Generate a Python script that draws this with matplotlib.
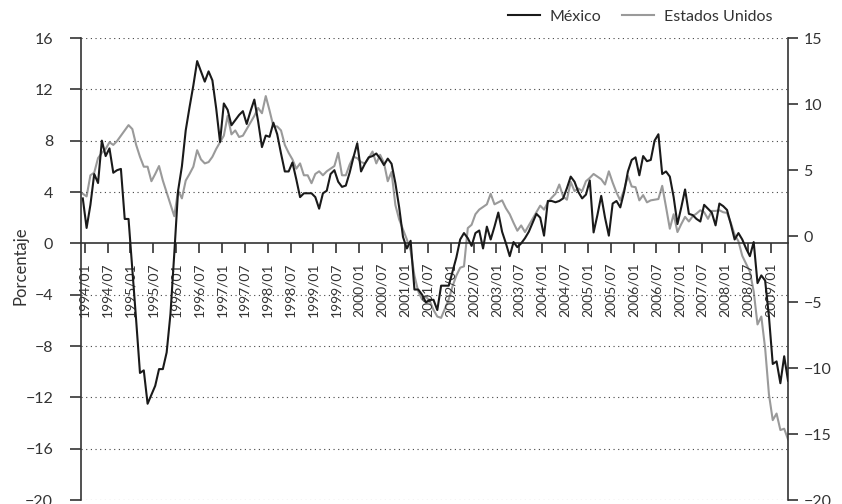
import matplotlib
matplotlib.use('Agg')
import matplotlib.pyplot as plt
import numpy as np

# variación anual (%), mensual desde 1994/01
mexico = [3.5, 1.2, 3.0, 5.4, 4.7, 8.0, 6.8, 7.4, 5.5, 5.7,
          5.8, 1.9, 1.9, -2.0, -6.0, -10.1, -9.9, -12.5, -11.8, -11.1,
          -9.8, -9.8, -8.5, -5.5, -0.8, 4.1, 6.0, 8.8, 10.6, 12.3,
          14.2, 13.4, 12.6, 13.4, 12.7, 10.5, 7.9, 10.9, 10.4, 9.2,
          9.6, 10.0, 10.3, 9.3, 10.3, 11.2, 9.5, 7.5, 8.4, 8.3,
          9.4, 8.5, 7.0, 5.6, 5.6, 6.3, 5.0, 3.6, 3.9, 3.9,
          3.9, 3.6, 2.7, 3.9, 4.1, 5.4, 5.7, 4.8, 4.4, 4.5,
          5.5, 6.7, 7.8, 5.6, 6.2, 6.7, 6.8, 7.0, 6.6, 6.1,
          6.6, 6.2, 4.7, 2.8, 0.5, -0.4, 0.2, -3.6, -3.6, -4.0,
          -4.6, -4.4, -4.4, -5.2, -3.3, -3.3, -3.3, -2.2, -1.1, 0.3,
          0.8, 0.4, -0.2, 0.8, 1.0, -0.4, 1.3, 0.3, 1.3, 2.4,
          0.9, 0.0, -1.0, 0.1, -0.3, 0.0, 0.4, 0.9, 1.6, 2.3,
          2.0, 0.6, 3.3, 3.3, 3.2, 3.3, 3.5, 4.3, 5.2, 4.8,
          4.0, 3.5, 3.8, 4.9, 0.85, 2.2, 3.7, 2.0, 0.6, 3.1,
          3.3, 2.8, 4.0, 5.6, 6.5, 6.7, 5.3, 6.8, 6.4, 6.5,
          8.0, 8.5, 5.4, 5.6, 5.2, 3.6, 1.5, 2.8, 4.2, 2.3,
          2.2, 1.9, 1.7, 3.0, 2.7, 2.4, 1.4, 3.1, 2.9, 2.6,
          1.5, 0.3, 0.8, 0.3, -0.4, -1.0, 0.1, -3.1, -2.5, -2.9,
          -5.7, -9.4, -9.2, -10.9, -8.8, -10.7]

estados_unidos = [3.2, 3.0, 4.6, 4.8, 5.9, 6.3, 6.6, 7.1, 6.9, 7.2,
                  7.6, 8.0, 8.4, 8.1, 6.9, 6.0, 5.25, 5.25, 4.15, 4.7,
                  5.3, 4.2, 3.3, 2.4, 1.5, 3.45, 2.85, 4.2, 4.7, 5.25,
                  6.5, 5.8, 5.5, 5.6, 6.0, 6.6, 7.1, 7.6, 9.1, 7.7,
                  8.0, 7.5, 7.6, 8.1, 8.6, 9.1, 9.7, 9.3, 10.6, 9.5,
                  8.3, 8.3, 8.0, 6.9, 6.3, 5.8, 5.1, 5.5, 4.6, 4.6,
                  4.0, 4.7, 4.9, 4.6, 4.9, 5.1, 5.3, 6.3, 4.6, 4.6,
                  5.4, 6.0, 5.9, 5.6, 5.5, 5.9, 6.4, 5.5, 6.15, 5.55,
                  4.15, 4.85, 2.35, 1.25, 0.5, -0.25, -1.1, -3.0, -4.2, -4.8,
                  -4.6, -4.9, -5.6, -6.1, -6.2, -5.5, -4.8, -3.8, -3.0, -2.4,
                  -2.3, 0.6, 0.85, 1.65, 2.0, 2.2, 2.4, 3.2, 2.4, 2.55,
                  2.7, 2.1, 1.65, 1.0, 0.4, 0.8, 0.3, 0.8, 1.3, 1.8,
                  2.3, 2.0, 2.55, 2.9, 3.2, 3.9, 3.0, 2.75, 4.1, 3.4,
                  3.6, 3.4, 4.15, 4.4, 4.7, 4.5, 4.3, 3.9, 4.9, 4.05,
                  3.3, 2.7, 3.5, 4.55, 3.75, 3.7, 2.7, 3.1, 2.55, 2.7,
                  2.75, 2.8, 3.8, 2.2, 0.55, 1.65, 0.3, 0.9, 1.45, 1.1,
                  1.5, 1.7, 1.95, 1.8, 1.3, 1.9, 1.9, 1.95, 1.8, 1.75,
                  1.0, 0.1, -0.4, -1.5, -2.1, -2.7, -4.2, -6.7, -6.1, -8.5,
                  -12.0, -13.95, -13.45, -14.7, -14.6, -15.4]

tick_labels = [f'{y}/{m}' for y in range(1994, 2010) for m in ('01', '07')][:31]
left_ticks = list(range(-20, 17, 4))
right_ticks = list(range(-20, 16, 5))

plt.rcParams['font.family'] = ['Lato', 'DejaVu Sans']
ink = '#333333'

fig = plt.figure(figsize=(8.42, 5.04), dpi=100)
ax = fig.add_axes([81 / 842, 4 / 504, 707 / 842, 462 / 504])
ax2 = ax.twinx()

line_us, = ax2.plot(np.arange(len(estados_unidos)), estados_unidos,
                    color='#9a9a9a', lw=1.5)
line_mx, = ax.plot(np.arange(len(mexico)), mexico, color='#1a1a1a', lw=1.5, zorder=3)
ax.set_zorder(ax2.get_zorder() + 1)
ax.patch.set_visible(False)

ax.set_xlim(-0.47, 185.0)
ax.set_ylim(-20, 16)
ax2.set_ylim(-20, 15)

for v in left_ticks:
    if v != 0:
        ax.axhline(v, color='#444444', lw=0.8, ls=(0, (1, 3.2)), zorder=0)

ax.set_yticks(left_ticks)
ax2.set_yticks(right_ticks)
ax.set_xticks([0.5 + 6 * j for j in range(len(tick_labels))])
ax.set_xticklabels(tick_labels, fontsize=10.5, color=ink)

for s in ['top', 'right']:
    ax.spines[s].set_visible(False)
for s in ['top', 'bottom', 'left']:
    ax2.spines[s].set_visible(False)
ax.spines['bottom'].set_position(('data', 0))
for sp in [ax.spines['left'], ax.spines['bottom'], ax2.spines['right']]:
    sp.set_color(ink)
    sp.set_linewidth(1.2)

ax.tick_params(axis='y', direction='out', length=8, width=1.2, pad=12,
               labelsize=11.5, colors=ink)
ax2.tick_params(axis='y', direction='out', length=7, width=1.2, pad=4,
                labelsize=11.5, colors=ink)
ax.tick_params(axis='x', direction='out', length=7, width=1.2, pad=7, colors=ink,
               labelrotation=90)

fig.text(20 / 842, 1 - 266 / 504, 'Porcentaje', rotation=90, ha='center',
         va='center', fontsize=12, color=ink)

fig.legend([line_mx, line_us], ['México', 'Estados Unidos'], loc='center right',
           bbox_to_anchor=(772 / 842, 1 - 17 / 504), ncol=2, frameon=False,
           fontsize=11.5, handlelength=2.0, handletextpad=0.6, columnspacing=1.3,
           borderpad=0, borderaxespad=0, labelcolor=ink)

fig.savefig('out.png', dpi=100)
